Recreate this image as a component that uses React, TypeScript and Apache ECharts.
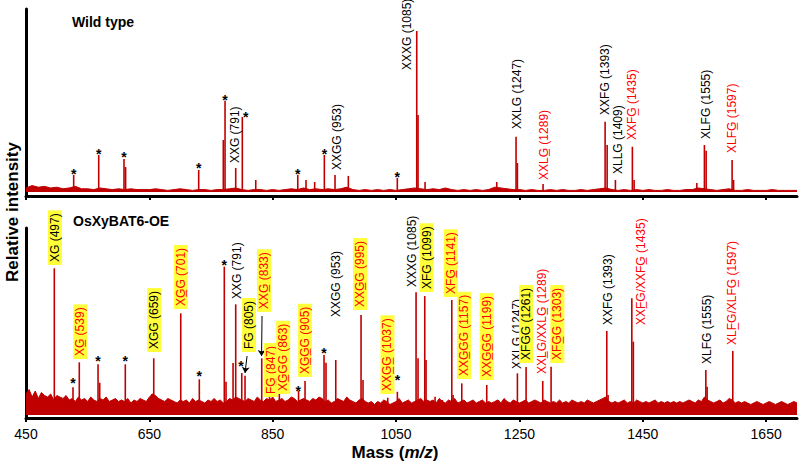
import { useEffect, useRef } from 'react';
import * as echarts from 'echarts';

const FONT = '"Liberation Sans", Arial, Helvetica, sans-serif';
const SPECTRUM = '#c00000';
const RED_TEXT = '#ff0000';
const HIGHLIGHT = '#ffff3c';

const massTicks = [450, 650, 850, 1050, 1250, 1450, 1650];

// baseline noise, read every 10 (wild type) / 5 (OE) m/z units starting at 450
const noiseStart = 450;
const wtNoiseStep = 10;
const wtNoise = [
  2.5, 4, 3, 3.5, 2.5, 3, 2, 2.5, 3.5, 2,
  2, 1.5, 2.5, 2, 1.5, 2, 1.5, 2, 1.5, 1.5,
  1.5, 2, 1.5, 1, 1.5, 2, 1.5, 1, 1.5, 1.5,
  1, 1.5, 1.5, 2, 2.5, 1.5, 1, 1.5, 1.5, 1,
  1.5, 1, 1.5, 2, 1.5, 2.5, 1.5, 2, 1.5, 2,
  1.5, 2, 3, 1.5, 1, 1.5, 1, 1.5, 1, 1.5,
  1, 1.5, 2, 2.5, 2, 1.5, 2, 1.5, 2.5, 1.5,
  1, 1.5, 1, 1.5, 1, 1.5, 3, 2.5, 2, 1.5,
  1.5, 1, 1.5, 1, 1, 1.5, 1, 1.5, 1, 1,
  1.5, 1, 1.5, 2, 2.5, 1.5, 1, 1.5, 1, 1.5,
  1, 1.5, 1, 1, 1.5, 1, 1, 1.5, 1.5, 2.5,
  2, 1.5, 1, 1.5, 2, 1, 1, 1.5, 1, 1,
  1, 1.5, 1, 1, 1, 1,
];
const oeNoiseStep = 5;
const oeNoise = [
  14, 17, 12, 16, 11, 15, 13, 12, 14, 10, 13, 12, 11, 13, 10,
  11, 9, 12, 10, 11, 9, 12, 10, 9, 11, 10, 12, 9, 10, 11, 9,
  10, 9, 11, 8, 10, 9, 11, 10, 9, 12, 14, 13, 11, 10, 9, 11, 10, 9, 8, 10,
  9, 10, 8, 11, 9, 10, 9, 8, 10, 9, 11, 9, 10, 8, 9, 11, 10, 12, 11, 10,
  9, 11, 10, 9, 12, 10, 9, 11, 10, 12, 9, 10, 11, 9, 10, 12, 11, 9, 10, 11,
  10, 9, 11, 10, 12, 11, 9, 10, 8, 9, 11, 10, 9, 12, 10, 9, 8, 10, 11, 9,
  8, 9, 7, 9, 8, 10, 9, 7, 8, 9, 11, 8, 9, 10, 8, 9, 10, 11, 9, 10,
  9, 10, 8, 11, 9, 8, 10, 9, 11, 8, 9, 10, 8, 9, 10, 8, 9, 10, 8, 9,
  8, 9, 10, 8, 11, 9, 8, 10, 9, 8, 9, 10, 8, 9, 10, 9, 8, 10, 9, 8,
  9, 8, 10, 8, 9, 8, 10, 9, 8, 9, 8, 10, 9, 8, 9, 10, 11, 12, 9, 8,
  9, 8, 9, 10, 8, 9, 8, 10, 9, 8, 9, 8, 9, 10, 8, 9, 8, 9, 8, 9,
  8, 9, 8, 9, 10, 9, 8, 10, 9, 12, 10, 9, 8, 9, 10, 8, 9, 11, 10, 8,
  9, 8, 9, 8, 7, 8, 9, 8, 7, 8, 9, 8, 7, 8, 9, 8, 7, 8, 9, 8,
];

// peaks [m/z, relative intensity]
const wtPeaks: [number, number][] = [
  [527.3, 10.6], [567.9, 23], [608.9, 20.5], [611.5, 15.5], [730, 13.7],
  [769.9, 32.3], [772.7, 56.7], [790, 14.9], [800.7, 46.6], [822.5, 7.5],
  [890.6, 10.6], [904, 7.5], [918, 6.2], [933.7, 23], [951, 10.6], [972.6, 10],
  [1052, 8.7], [1083.5, 100], [1085.6, 47.8], [1097, 6.2], [1213.2, 6.2],
  [1244.5, 34.3], [1246.7, 18], [1288.3, 5], [1388.9, 43.7], [1392.2, 29.2],
  [1405.6, 7.5], [1433.1, 28.1], [1435.9, 7.5], [1537.6, 5.6], [1549.9, 29.2],
  [1552.7, 25.7], [1594.8, 19.9], [1597.2, 7.5],
];
const oePeaks: [number, number][] = [
  [495.9, 97.8], [526.2, 18.5], [536.4, 35.1], [566.8, 33.8], [569.5, 21.5],
  [611, 33.8], [654, 14], [657.1, 37.8], [660, 12], [700.9, 67.8], [731, 23.8],
  [771.5, 98.9], [774.3, 22.2], [785.7, 34.7], [790, 73.8], [799.8, 28],
  [805.1, 26.2], [832.2, 37.8], [844.8, 12.2], [860.7, 14.9], [891.9, 16],
  [902.4, 22.7], [933.2, 40], [936.4, 34.9], [952.2, 36.7], [993.2, 66.7],
  [996.4, 23.3], [1036.5, 11.5], [1052.1, 15.5], [1082.4, 81.8], [1085.6, 37.8],
  [1096.5, 79.3], [1098.6, 36.7], [1113.2, 12.2], [1125, 10], [1140.3, 76.7],
  [1142.4, 13.3], [1156.5, 21.1], [1197, 20], [1215.9, 10], [1246.7, 27.8],
  [1260.8, 32], [1287.8, 22.7], [1301.3, 32.2], [1377, 8.9], [1391.6, 56],
  [1393.7, 13.3], [1432.2, 77.8], [1434.7, 48.9], [1538.5, 8.9], [1552.2, 30],
  [1554.3, 18.9], [1580.7, 6.7], [1595.9, 42.7],
];

// contaminant markers (*)
const wtStars: [number, number][] = [
  [527.3, 13], [567.9, 25.5], [608.9, 23.6], [730, 16.8], [772.7, 59],
  [806.2, 48.4], [890.6, 13], [933.7, 25.5], [1052, 11.2],
];
const oeStars: [number, number][] = [
  [526.2, 23.3], [566.8, 38], [611, 38], [731, 28], [771.5, 102],
  [798.7, 35], [891.5, 18], [933.2, 43.3], [1052.1, 25.5],
];

// annotations [text, m/z, intensity at label start, kind]  k = plain, r = acetylated, b = highlighted
const U = '\u0332';
const wtLabels: [string, number, number, string][] = [
  ['XXG (791)', 789, 16.1, 'k'],
  ['XXGG (953)', 953.8, 11.8, 'k'],
  ['XXXG (1085)', 1067.3, 73.9, 'k'],
  ['XXLG (1247)', 1245.7, 37.3, 'k'],
  [`XXLG${U} (1289)`, 1290, 5.6, 'r'],
  ['XXFG (1393)', 1388.9, 46, 'k'],
  ['XLLG (1409)', 1410.4, 9.3, 'k'],
  [`XXFG${U} (1435)`, 1433.1, 30.4, 'r'],
  ['XLFG (1555)', 1552.6, 31, 'k'],
  [`XLFG${U} (1597)`, 1594.3, 22.4, 'r'],
];
const oeLabels: [string, number, number, string][] = [
  ['XG (497)', 497, 100, 'kb'],
  [`XG${U} (539)`, 537.9, 37.3, 'rb'],
  ['XGG (659)', 657.9, 42, 'kb'],
  [`XG${U}G (701)`, 700.9, 70.7, 'rb'],
  ['XXG (791)', 791.6, 75.3, 'k'],
  ['FG (805)', 811.6, 42, 'kb'],
  [`XXG${U} (833)`, 835.9, 68.7, 'rb'],
  [`FG${U} (847)`, 847.3, 12, 'rb'],
  [`XG${U}GG (863)`, 867, 14, 'rb'],
  [`XG${U}G${U}G (905)`, 902.4, 25.3, 'rb'],
  ['XXGG (953)', 952, 63.3, 'k'],
  [`XXG${U}G (995)`, 991.6, 70, 'rb'],
  [`XXG${U}G${U} (1037)`, 1036, 14, 'rb'],
  ['XXXG (1085)', 1075.4, 83.3, 'k'],
  ['XFG (1099)', 1099.4, 82, 'kb'],
  [`XFG${U} (1141)`, 1138.7, 78.7, 'rb'],
  [`XXG${U}GG (1157)`, 1160.2, 24, 'rb'],
  [`XXG${U}G${U}G (1199)`, 1197, 23.3, 'rb'],
  ['XXLG (1247)', 1246.2, 28.7, 'k'],
  ['XFGG (1261)', 1260.8, 34.7, 'kb'],
  [`XXL${U}G/XXLG${U} (1289)`, 1286.2, 25.3, 'r'],
  [`XFG${U}G (1303)`, 1311.5, 34.7, 'rb'],
  ['XXFG (1393)', 1394.2, 58, 'k'],
  [`XXF${U}G/XXFG${U} (1435)`, 1446.8, 58, 'r'],
  ['XLFG (1555)', 1553.8, 32, 'k'],
  [`XLF${U}G/XLFG${U} (1597)`, 1595.3, 44.7, 'r'],
];
// arrows from a label to its peak [m/z from, intensity from, m/z to, intensity to]
const oeArrows: [number, number, number, number][] = [
  [808.4, 39.3, 805.1, 28],
  [832.7, 66, 831.9, 39.3],
];

function noiseData(noise: number[], step: number) {
  return noise.map((v, i) => [noiseStart + i * step, v]);
}

function labelItems(labels: [string, number, number, string][]) {
  return labels.map(([text, mz, v, kind]) => ({
    name: text,
    value: [mz, v],
    label: {
      color: kind[0] === 'r' ? RED_TEXT : '#000',
      backgroundColor: kind.includes('b') ? HIGHLIGHT : 'transparent',
    },
  }));
}

function starItems(stars: [number, number][]) {
  return stars.map(([mz, v]) => ({ name: '*', value: [mz, v] }));
}

const axisLine = { show: true, onZero: false, lineStyle: { color: '#000', width: 3 } };
const axisTick = { show: true, customValues: massTicks, length: 4, lineStyle: { color: '#000', width: 2 } };

function xAxisFor(grid: number, showLabels: boolean) {
  const ax: any = {
    type: 'value',
    gridIndex: grid,
    min: 450,
    max: 1700,
    axisLine,
    axisTick,
    splitLine: { show: false },
    axisLabel: showLabels
      ? {
          show: true,
          customValues: massTicks,
          formatter: (v: number) => String(v),
          fontSize: 14,
          color: '#000',
          fontFamily: FONT,
          margin: 9,
        }
      : { show: false },
  };
  if (showLabels) {
    ax.name = '{b|Mass (}{i|m/z}{b|)}';
    ax.nameLocation = 'middle';
    ax.nameGap = 26;
    ax.nameMoveOverlap = false;
    ax.nameTextStyle = {
      padding: [0, 33, 0, 0],
      rich: {
        b: { fontSize: 17, fontWeight: 'bold', fontFamily: FONT, color: '#000' },
        i: { fontSize: 17, fontWeight: 'bold', fontStyle: 'italic', fontFamily: FONT, color: '#000' },
      },
    };
  }
  return ax;
}

function yAxisFor(grid: number, min: number, max: number) {
  return {
    type: 'value',
    gridIndex: grid,
    min,
    max,
    axisLine,
    axisTick: { show: false },
    axisLabel: { show: false },
    splitLine: { show: false },
  };
}

const rotatedLabel = {
  show: true,
  formatter: '{b}',
  position: 'inside',
  rotate: 90,
  align: 'left',
  verticalAlign: 'middle',
  fontSize: 12,
  fontFamily: FONT,
  lineHeight: 14,
  padding: [0, 3],
  opacity: 1,
};

const starLabel = {
  show: true,
  formatter: '{b}',
  position: 'inside',
  fontSize: 14,
  fontWeight: 'bold',
  fontFamily: FONT,
  color: '#000',
  offset: [0, 3],
  opacity: 1,
};

function panelSeries(
  idx: number,
  noise: number[],
  step: number,
  peaks: [number, number][],
  labels: [string, number, number, string][],
  stars: [number, number][],
  arrows: [number, number, number, number][],
) {
  const base = { xAxisIndex: idx, yAxisIndex: idx };
  const noiseSeries: any = {
    ...base,
    type: 'line',
    data: noiseData(noise, step),
    symbol: 'none',
    lineStyle: { color: SPECTRUM, width: 1 },
    areaStyle: { color: SPECTRUM, opacity: 1 },
    silent: true,
    z: 2,
  };
  if (arrows.length) {
    noiseSeries.markLine = {
      silent: true,
      symbol: ['none', 'arrow'],
      symbolSize: 6,
      label: { show: false },
      lineStyle: { color: '#000', width: 1, type: 'solid' },
      emphasis: { disabled: true },
      data: arrows.map(([x1, y1, x2, y2]) => [{ coord: [x1, y1] }, { coord: [x2, y2] }]),
    };
  }
  const markerStyle = { color: 'rgba(0,0,0,0)', opacity: 1 };
  return [
    noiseSeries,
    {
      ...base,
      type: 'bar',
      data: peaks,
      barWidth: 1.6,
      itemStyle: { color: SPECTRUM },
      silent: true,
      z: 3,
    },
    {
      ...base,
      type: 'scatter',
      data: labelItems(labels),
      symbolSize: 1,
      itemStyle: markerStyle,
      label: rotatedLabel,
      silent: true,
      z: 5,
    },
    {
      ...base,
      type: 'scatter',
      data: starItems(stars),
      symbolSize: 1,
      itemStyle: markerStyle,
      label: starLabel,
      silent: true,
      z: 5,
    },
  ];
}

const option: any = {
  animation: false,
  backgroundColor: '#fff',
  grid: [
    { left: 26, right: 3, top: 9, height: 187, outerBoundsMode: 'none' },
    { left: 26, right: 3, top: 228, height: 190, outerBoundsMode: 'none' },
  ],
  xAxis: [xAxisFor(0, false), xAxisFor(1, true)],
  yAxis: [yAxisFor(0, -2.48, 113.66), yAxisFor(1, -2, 124.67)],
  series: [
    ...panelSeries(0, wtNoise, wtNoiseStep, wtPeaks, wtLabels, wtStars, []),
    ...panelSeries(1, oeNoise, oeNoiseStep, oePeaks, oeLabels, oeStars, oeArrows),
  ],
  graphic: [
    {
      type: 'text',
      x: 72,
      y: 22,
      style: {
        text: 'Wild type', fontSize: 14, fontWeight: 'bold', fontFamily: FONT, fill: '#000',
        align: 'left', verticalAlign: 'middle', textAlign: 'left', textVerticalAlign: 'middle',
      },
    },
    {
      type: 'text',
      x: 73,
      y: 221,
      style: {
        text: 'OsXyBAT6-OE', fontSize: 14, fontWeight: 'bold', fontFamily: FONT, fill: '#000',
        align: 'left', verticalAlign: 'middle', textAlign: 'left', textVerticalAlign: 'middle',
      },
    },
    {
      type: 'text',
      x: 12,
      y: 212,
      rotation: Math.PI / 2,
      style: {
        text: 'Relative intensity', fontSize: 17, fontWeight: 'bold', fontFamily: FONT, fill: '#000',
        align: 'center', verticalAlign: 'middle', textAlign: 'center', textVerticalAlign: 'middle',
      },
    },
  ],
};

export default function App() {
  const ref = useRef<HTMLDivElement>(null);
  useEffect(() => {
    const chart = echarts.init(ref.current!, null, { renderer: 'svg' });
    chart.setOption(option);
    return () => chart.dispose();
  }, []);
  return (
    <div
      ref={ref}
      style={{ position: 'fixed', left: 0, top: 0, width: 800, height: 466, background: '#fff' }}
    />
  );
}
